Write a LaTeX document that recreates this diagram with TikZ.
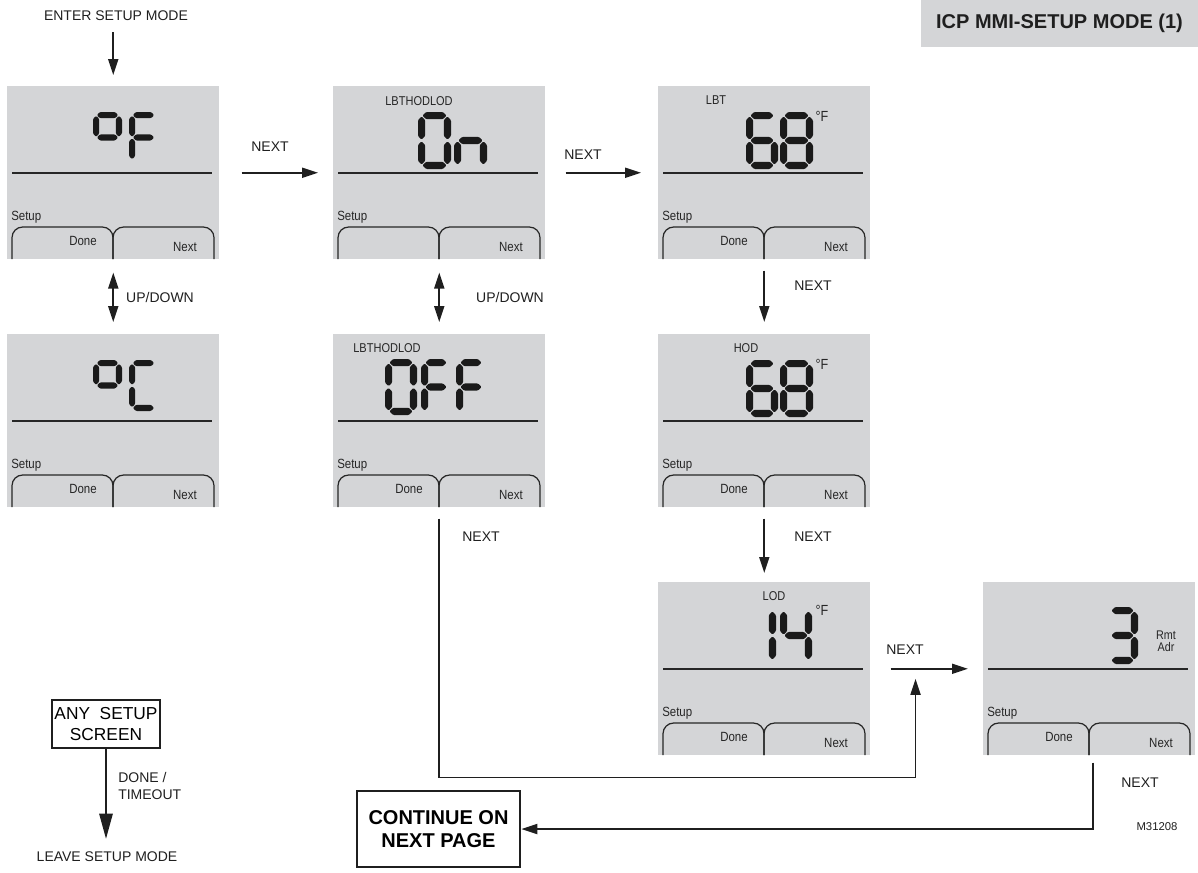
\documentclass[tikz,border=0pt]{standalone}
\usepackage{fontspec}
\setmainfont{Liberation Sans}
\newfontfamily\lcdfont[FakeStretch=0.86]{Liberation Sans}
\usetikzlibrary{arrows.meta,calc}
\definecolor{lcdgray}{RGB}{212,213,215}
\definecolor{segcol}{RGB}{26,26,26}

\tikzset{
  lcd/.style={draw=none, fill=lcdgray, minimum width=159pt, minimum height=129.75pt, inner sep=0pt, anchor=north west},
  seg/.style={fill=segcol, draw=none, rounded corners=0.8pt},
  sepline/.style={line width=1pt, draw=black!85},
  tab/.style={line width=0.9pt, draw=black!85, rounded corners=8pt},
  lcdtxt/.style={font=\lcdfont\fontsize{10}{11}\selectfont, inner sep=0pt, text=black!85},
  lcdlab/.style={font=\lcdfont\fontsize{9.6}{10}\selectfont, inner sep=0pt, text=black!85},
  lcddeg/.style={font=\lcdfont\fontsize{11}{12}\selectfont, inner sep=0pt, text=black!85},
  lcdsmall/.style={font=\lcdfont\fontsize{9.4}{8.8}\selectfont, inner sep=0pt, text=black!85, align=center},
  lbl/.style={font=\fontsize{10.5}{12.5}\selectfont, inner sep=0pt, text=black!88},
  arr/.style={line width=1.4pt, draw=black!88, -{Triangle[length=12pt,width=7.5pt]}},
  darr/.style={line width=1.4pt, draw=black!88, {Triangle[length=12pt,width=7.5pt]}-{Triangle[length=12pt,width=7.5pt]}},
  bigarr/.style={line width=1.5pt, draw=black!88, -{Triangle[length=19pt,width=10pt]}},
  boxnode/.style={draw=black!88, align=center, inner sep=0pt},
}

% seven-segment helpers (y axis points down)
\newcommand\hseg[3]{%
  \fill[seg] ({#1},{#3}) -- ({#1+\segh},{#3-\segh}) -- ({#2-\segh},{#3-\segh}) -- ({#2},{#3}) -- ({#2-\segh},{#3+\segh}) -- ({#1+\segh},{#3+\segh}) -- cycle;}
\newcommand\vseg[3]{%
  \fill[seg] ({#1},{#2}) -- ({#1+\segh},{#2+\segh}) -- ({#1+\segh},{#3-\segh}) -- ({#1},{#3}) -- ({#1-\segh},{#3-\segh}) -- ({#1-\segh},{#2+\segh}) -- cycle;}
\newcommand\segA{\hseg{\xL+\gp}{\xR-\gp}{\yT}}
\newcommand\segB{\vseg{\xR}{\yT+\gp}{\yM-\gp}}
\newcommand\segC{\vseg{\xR}{\yM+\gp}{\yB-\gp}}
\newcommand\segD{\hseg{\xL+\gp}{\xR-\gp}{\yB}}
\newcommand\segE{\vseg{\xL}{\yM+\gp}{\yB-\gp}}
\newcommand\segF{\vseg{\xL}{\yT+\gp}{\yM-\gp}}
\newcommand\segG{\hseg{\xL+\gp}{\xR-\gp}{\yM}}
\newcommand\lcddigit[6]{%
  \pgfmathsetmacro\segh{#5/2}%
  \pgfmathsetmacro\gp{#5*0.12}%
  \pgfmathsetmacro\xL{#1+#5/2}%
  \pgfmathsetmacro\xR{#1+#3-#5/2}%
  \pgfmathsetmacro\yT{#2+#5/2}%
  \pgfmathsetmacro\yM{#2+#4/2}%
  \pgfmathsetmacro\yB{#2+#4-#5/2}%
  #6}

\newcommand\lcdscreen[4]{%
  \node[lcd] (#1) at (#2,#3) {};
  \begin{scope}[shift={(#2,#3)}]
    \draw[sepline] (5,87) -- (205,87);
    \node[lcdtxt, anchor=west] (#1-setup) at (4,131) {Setup};
    \draw[tab] (5,173) |- (106,141) -- (106,173);
    \draw[tab] (106,173) |- (207,141) -- (207,173);
    \node[lcdtxt] (#1-done) at (76,155) {#4};
    \node[lcdtxt] (#1-next) at (178,161) {Next};
  \end{scope}}

\begin{document}
\begin{tikzpicture}[x=0.75pt, y=-0.75pt]
\useasboundingbox (0,0) rectangle (1198,872);

% title
\node[fill=lcdgray, minimum width=207.75pt, minimum height=35.25pt, inner sep=0pt,
      font=\bfseries\fontsize{15}{18}\selectfont, text=black!88] (title) at (1059.5,23.5) {ICP MMI-SETUP MODE (1)};

% screens
\lcdscreen{s1}{7}{86}{Done}
\lcdscreen{s2}{333}{86}{}
\lcdscreen{s3}{658}{86}{Done}
\lcdscreen{s4}{7}{334}{Done}
\lcdscreen{s5}{333}{334}{Done}
\lcdscreen{s6}{658}{334}{Done}
\lcdscreen{s7}{658}{582}{Done}
\lcdscreen{s8}{983}{582}{Done}

% digits
\lcddigit{93}{112}{29}{51}{6.2}{\segA\segB\segF\segG}
\lcddigit{129}{112}{29}{51}{6.2}{\segA\segF\segG\segE}
\lcddigit{93}{360}{29}{51}{6.2}{\segA\segB\segF\segG}
\lcddigit{129}{360}{29}{51}{6.2}{\segA\segF\segE\segD}
\lcddigit{418}{112}{33}{57}{7.2}{\segA\segB\segC\segD\segE\segF}
\lcddigit{454}{112}{33}{57}{7.2}{\segE\segG\segC}
\lcddigit{385}{359}{32}{56}{7.2}{\segA\segB\segC\segD\segE\segF}
\lcddigit{421}{359}{30}{56}{7.2}{\segA\segF\segG\segE}
\lcddigit{456}{359}{30}{56}{7.2}{\segA\segF\segG\segE}
\lcddigit{746}{112}{32}{57}{7.2}{\segA\segF\segG\segE\segD\segC}
\lcddigit{780}{112}{33}{57}{7.2}{\segA\segB\segC\segD\segE\segF\segG}
\lcddigit{746}{360}{32}{57}{7.2}{\segA\segF\segG\segE\segD\segC}
\lcddigit{780}{360}{33}{57}{7.2}{\segA\segB\segC\segD\segE\segF\segG}
\lcddigit{745}{607}{31}{57}{7.2}{\segB\segC}
\lcddigit{780}{607}{32}{57}{7.2}{\segF\segB\segG\segC}
\lcddigit{1107}{607}{31}{57}{7.2}{\segA\segB\segG\segC\segD}

% screen labels
\node[lcdlab] (s2-lab) at (419,101) {LBTHODLOD};
\node[lcdlab] (s5-lab) at (387,348) {LBTHODLOD};
\node[lcdlab] (s3-lab) at (716,100) {LBT};
\node[lcdlab] (s6-lab) at (746,348) {HOD};
\node[lcdlab] (s7-lab) at (774,596) {LOD};
\node[lcddeg] (s3-deg) at (822,116) {°F};
\node[lcddeg] (s6-deg) at (822,364) {°F};
\node[lcddeg] (s7-deg) at (822,610) {°F};
\node[lcdsmall] (s8-unit) at (1166,641) {Rmt\\Adr};

% other boxes
\node[boxnode, line width=2pt, minimum width=122.25pt, minimum height=57pt,
      font=\bfseries\fontsize{15}{17.5}\selectfont] (cont) at (438.5,829) {CONTINUE ON\\NEXT PAGE};
\node[boxnode, line width=1.3pt, minimum width=81pt, minimum height=36pt,
      font=\fontsize{13}{15.5}\selectfont] (any) at (106,724) {ANY~~SETUP\\SCREEN};

% text labels
\node[lbl] (enter) at (116,16) {ENTER SETUP MODE};
\node[lbl] (leave) at (107,857) {LEAVE SETUP MODE};
\node[lbl, anchor=west, align=left] (done) at (118,786) {DONE /\\TIMEOUT};
\node[lbl] (n1) at (270,147) {NEXT};
\node[lbl] (n2) at (583,155) {NEXT};
\node[lbl] (ud1) at (160,297) {UP/DOWN};
\node[lbl] (ud2) at (510,297) {UP/DOWN};
\node[lbl] (n3) at (813,286) {NEXT};
\node[lbl] (n4) at (813,537) {NEXT};
\node[lbl] (n5) at (481,537) {NEXT};
\node[lbl] (n6) at (905,650) {NEXT};
\node[lbl] (n7) at (1140,783) {NEXT};
\node[font=\fontsize{8.5}{10}\selectfont, inner sep=0pt, text=black!88] (code) at (1157,827) {M31208};

% connectors
\draw[arr] ($(s1.north)+(0,-54)$) -- ($(s1.north)+(0,-11)$);
\draw[arr] ($(s1.east)+(22,0)$) -- ($(s2.west)+(-15,0)$);
\draw[arr] ($(s2.east)+(20,0)$) -- ($(s3.west)+(-17,0)$);
\draw[darr] ($(s1.south)+(0,13)$) -- ($(s4.north)+(0,-12)$);
\draw[darr] ($(s2.south)+(0,13)$) -- ($(s5.north)+(0,-12)$);
\draw[arr] ($(s3.south)+(0,11)$) -- ($(s6.north)+(0,-12)$);
\draw[arr] ($(s6.south)+(0,11)$) -- ($(s7.north)+(0,-9)$);
\coordinate (uptip) at ($(s7.east)+(45,10)$);
\draw[arr] ($(s5.south)+(0,11)$) -- ++(0,259) -| (uptip);
\draw[arr] ($(s7.east)+(20,0)$) -- ($(s8.west)+(-15,0)$);
\draw[arr] ($(s8.south)+(4,7)$) |- (cont.east);
\draw[bigarr] (any.south) -- ++(0,90);
\end{tikzpicture}
\end{document}
